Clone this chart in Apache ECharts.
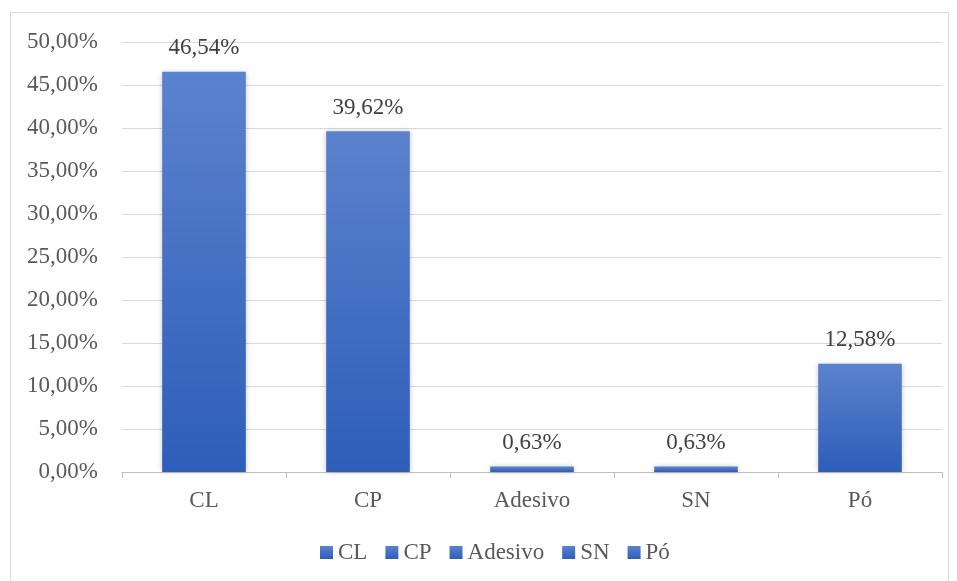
<!DOCTYPE html>
<html>
<head>
<meta charset="utf-8">
<script src="https://cdn.jsdelivr.net/npm/echarts@6/dist/echarts.min.js"></script>
<style>
  html, body { margin: 0; padding: 0; background: #fff; }
  #chart { width: 957px; height: 581px; }
</style>
</head>
<body>
<div id="chart"></div>
<script>
// categories and values (percent)
var categories = ['CL', 'CP', 'Adesivo', 'SN', 'Pó'];
var values = [46.54, 39.62, 0.63, 0.63, 12.58];
var yTicks = { min: 0, max: 50, interval: 5 };

var fontFamily = '"Liberation Serif", "Times New Roman", serif';

var barColor = new echarts.graphic.LinearGradient(0, 0, 0, 1, [
  { offset: 0, color: '#5b82cd' },
  { offset: 1, color: '#2e5eb9' }
]);

function fmt(v) {
  return v.toFixed(2).replace('.', ',') + '%';
}

// one series per category so the legend lists every bar
var series = categories.map(function (name, i) {
  var data = categories.map(function (c, j) { return j === i ? values[i] : '-'; });
  return {
    name: name,
    type: 'bar',
    stack: 'all',
    barWidth: '51%',
    data: data,
    itemStyle: {
      color: barColor,
      shadowBlur: 5,
      shadowColor: 'rgba(0,0,0,0.22)'
    },
    label: {
      show: true,
      position: 'top',
      distance: 12,
      color: '#404040',
      fontFamily: fontFamily,
      fontSize: 23,
      formatter: function (p) { return fmt(p.value); }
    }
  };
});

var chart = echarts.init(document.getElementById('chart'));
chart.setOption({
  animation: false,
  backgroundColor: '#fff',
  graphic: [{
    type: 'rect',
    shape: { x: 10.5, y: 12.5, width: 938, height: 580 },
    style: { fill: 'none', stroke: '#d9d9d9', lineWidth: 1 },
    silent: true
  }],
  grid: { left: 122, right: 15, top: 42, bottom: 109 },
  legend: {
    bottom: 12,
    left: 315,
    icon: 'rect',
    itemWidth: 13,
    itemHeight: 13,
    itemGap: 18,
    textStyle: { color: '#595959', fontFamily: fontFamily, fontSize: 23 },
    data: categories
  },
  xAxis: {
    type: 'category',
    data: categories,
    axisLine: { lineStyle: { color: '#bfbfbf' } },
    axisTick: { show: true, length: 6, lineStyle: { color: '#bfbfbf' } },
    axisLabel: { color: '#595959', fontFamily: fontFamily, fontSize: 23, margin: 17 }
  },
  yAxis: {
    type: 'value',
    min: yTicks.min,
    max: yTicks.max,
    interval: yTicks.interval,
    axisLine: { show: false },
    axisTick: { show: false },
    splitLine: { lineStyle: { color: '#d9d9d9' } },
    axisLabel: {
      color: '#595959',
      fontFamily: fontFamily,
      fontSize: 23,
      margin: 24,
      formatter: function (v) { return fmt(v); }
    }
  },
  series: series
});
</script>
</body>
</html>
